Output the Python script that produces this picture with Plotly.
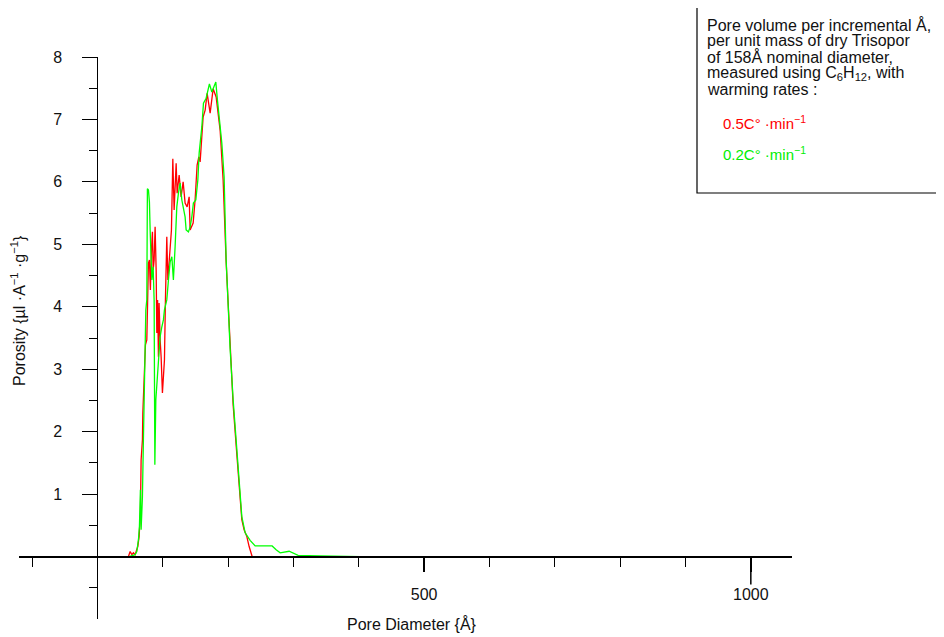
import plotly.graph_objects as go

# ---------------- data ----------------
red_name = "0.5C° ·min<sup>−1</sup>"
green_name = "0.2C° ·min<sup>−1</sup>"

red_x = [47.5, 50.1, 52.7, 55.1, 57.7, 61.8, 63.8, 65.8, 66.9, 68.9, 69.5, 70.4, 71.9, 73.5,
         75.6, 77.1, 78.1, 79.6, 81.1, 82.7, 84.2, 85.3, 86.8, 88.3, 89.9, 90.9, 92.1, 93.4,
         94.4, 96.0, 97.5, 99.5, 101.0, 102.6, 104.1, 106.2, 107.8, 109.8, 111.3, 113.3,
         115.4, 117.4, 120.5, 122.0, 125.1, 128.1, 131.2, 134.2, 137.3, 140.4, 141.9, 146.5,
         149.5, 152.6, 155.2, 157.2, 161.8, 164.9, 167.9, 172.5, 177.1, 181.7, 187.8, 192.4,
         197.0, 203.1, 207.7, 213.4, 216.9, 221.0, 224.5, 228.7, 232.2, 236.8, 300, 400,
         500, 600, 700, 800, 900, 1000, 1063]
red_y = [0.0, 0.08, 0.03, 0.06, 0.03, 0.16, 0.32, 0.70, 1.55, 1.87, 2.30, 2.62, 3.15, 3.39,
         3.47, 4.27, 4.70, 4.75, 4.27, 4.91, 5.20, 4.59, 4.75, 5.28, 4.59, 3.58, 4.11, 3.20,
         4.06, 3.47, 3.20, 2.62, 2.83, 3.15, 4.11, 5.12, 4.43, 4.75, 4.96, 5.23,
         6.37, 5.55, 6.30, 5.82, 6.11, 5.76, 6.00, 5.66, 5.60, 5.76, 5.23, 5.34,
         5.71, 6.27, 6.40, 6.32, 7.04, 7.15, 7.42, 7.10, 7.49, 7.36, 6.83, 6.03,
         4.72, 3.28, 2.43, 1.63, 1.10, 0.59, 0.43, 0.32, 0.16, 0.0, 0.0, 0.0,
         0.0, 0.0, 0.0, 0.0, 0.0, 0.0, 0.0]

green_x = [48.5, 57.7, 60.3, 62.8, 64.3, 65.8, 66.9, 68.9, 70.4, 71.9, 73.0, 74.1, 75.6, 76.5,
           78.1, 79.6, 80.7, 82.2, 83.3, 85.3, 86.8, 87.9, 88.3, 89.4, 91.8, 93.4, 96.0,
           98.6, 101.0, 102.6, 106.2, 108.7, 111.3, 113.9, 116.3, 118.9, 121.5, 124.0,
           126.6, 129.2, 131.6, 134.2, 135.8, 139.3, 141.9, 144.5, 146.9, 150.6, 153.7,
           155.7, 159.8, 162.3, 166.4, 171.4, 175.1, 181.2, 183.7, 186.7, 190.4, 193.9,
           197.0, 203.1, 207.7, 213.4, 216.9, 221.0, 226.1, 230.7, 233.7, 241.4, 267.4,
           273.5, 279.7, 293.4, 307.1, 340.9, 402, 500, 600, 700, 800, 900, 1000, 1063]
green_y = [0.0, 0.03, 0.08, 0.27, 0.48, 1.07, 0.43, 0.96, 1.87, 2.88, 3.58, 3.95, 4.11, 5.89,
           5.87, 5.68, 5.23, 4.91, 4.43, 4.64, 4.11, 1.47, 2.08, 2.51, 2.88, 3.20, 3.52,
           3.68, 3.79, 3.95, 4.11, 4.43, 4.72, 4.80, 4.43, 4.96, 5.60, 5.82,
           5.98, 5.71, 5.60, 5.44, 5.23, 5.20, 5.28, 5.44, 5.66, 5.71, 6.03,
           6.46, 6.88, 7.26, 7.34, 7.57, 7.44, 7.60, 7.31, 7.04, 6.62, 6.08,
           4.75, 3.33, 2.51, 1.71, 1.18, 0.64, 0.38, 0.30, 0.26, 0.17, 0.17,
           0.11, 0.06, 0.085, 0.02, 0.01, 0.0, 0.0, 0.0, 0.0, 0.0, 0.0, 0.0, 0.0]

x_major_ticks = [500, 1000]
x_major_labels = ["500", "1000"]
x_minor_ticks = [-100, 100, 200, 300, 400, 600, 700, 800, 900]
y_major_ticks = [1, 2, 3, 4, 5, 6, 7, 8]
y_major_labels = ["1", "2", "3", "4", "5", "6", "7", "8"]
y_minor_ticks = [-0.5, 0.5, 1.5, 2.5, 3.5, 4.5, 5.5, 6.5, 7.5]

legend_lines = [
    "Pore volume per incremental Å,",
    "per unit mass of dry Trisopor",
    "of 158Å nominal diameter,",
    "measured using C<sub>6</sub>H<sub>12</sub>, with",
    "warming rates :",
]

x_title = "Pore Diameter {Å}"
y_title = "Porosity {µl ·A<sup>−1</sup> ·g<sup>−1</sup>}"

# ---------------- layout geometry ----------------
OFF = 8  # page body margin
W, H = 944 - OFF, 637 - OFF
L, T = 19 - OFF, 57 - OFF
PW, PH = 773, 562
R, B = W - L - PW, H - T - PH
X_RANGE = [-120, 1063]
Y_RANGE = [-1, 8]
FONT = "Liberation Sans, Arial, sans-serif"
FS = 16


def pxx(px):
    return (px - OFF - L) / PW


def pyy(py):
    return 1 - (py - OFF - T) / PH


fig = go.Figure()
fig.add_trace(go.Scatter(x=red_x, y=red_y, mode="lines", name=red_name,
                         line=dict(color="#ff0000", width=1.3), showlegend=False))
fig.add_trace(go.Scatter(x=green_x, y=green_y, mode="lines", name=green_name,
                         line=dict(color="#00ff00", width=1.3), showlegend=False))

y_axis_pos = (0 - X_RANGE[0]) / (X_RANGE[1] - X_RANGE[0])
x_axis_pos = (0 - Y_RANGE[0]) / (Y_RANGE[1] - Y_RANGE[0])

fig.update_layout(
    width=W, height=H,
    margin=dict(l=L, r=R, t=T, b=B, pad=0),
    paper_bgcolor="white", plot_bgcolor="white",
    font=dict(family=FONT, size=FS, color="#111"),
    showlegend=False,
    xaxis=dict(
        range=X_RANGE, anchor="free", position=x_axis_pos,
        showgrid=False, zeroline=False,
        showline=True, linecolor="black", linewidth=2.2,
        tickmode="array", tickvals=x_major_ticks, ticktext=x_major_labels,
        ticks="outside", ticklen=14, tickwidth=1.5, tickcolor="black",
        ticklabelstandoff=9,
        minor=dict(tickmode="array", tickvals=x_minor_ticks, ticks="outside",
                   ticklen=9, tickwidth=1.3, tickcolor="black", showgrid=False),
        tickfont=dict(family=FONT, size=FS, color="#111"),
    ),
    yaxis=dict(
        range=Y_RANGE, anchor="free", position=y_axis_pos,
        showgrid=False, zeroline=False,
        showline=True, linecolor="black", linewidth=1.3,
        tickmode="array", tickvals=y_major_ticks, ticktext=y_major_labels,
        ticks="outside", ticklen=15, tickwidth=1.3, tickcolor="black",
        ticklabelstandoff=17,
        minor=dict(tickmode="array", tickvals=y_minor_ticks, ticks="outside",
                   ticklen=8, tickwidth=1.2, tickcolor="black", showgrid=False),
        tickfont=dict(family=FONT, size=FS, color="#111"),
    ),
)

# longer tick at 1000
fig.add_shape(type="line", xref="x", yref="y", x0=1000, x1=1000,
              ysizemode="pixel", yanchor=0, y0=0, y1=-28,
              line=dict(color="black", width=1.5))

# legend box (cut by the right edge)
fig.add_shape(type="rect", xref="paper", yref="paper",
              x0=pxx(697), x1=pxx(944 + 20), y0=pyy(193), y1=pyy(7),
              line=dict(color="black", width=1.2), fillcolor="rgba(0,0,0,0)", layer="above")

anns = []
centers = [24.5, 40.5, 57, 73.5, 89]
for txt, yc in zip(legend_lines, centers):
    anns.append(dict(text=txt, xref="paper", yref="paper", x=pxx(705), y=pyy(yc),
                     xanchor="left", yanchor="middle", showarrow=False,
                     font=dict(family=FONT, size=FS, color="#111")))
anns.append(dict(text=red_name, xref="paper", yref="paper", x=pxx(721), y=pyy(122),
                 xanchor="left", yanchor="middle", showarrow=False,
                 font=dict(family=FONT, size=FS - 1, color="#ff0000")))
anns.append(dict(text=green_name, xref="paper", yref="paper", x=pxx(721), y=pyy(154),
                 xanchor="left", yanchor="middle", showarrow=False,
                 font=dict(family=FONT, size=FS - 1, color="#00ee00")))
anns.append(dict(text=x_title, xref="paper", yref="paper", x=pxx(412), y=pyy(624),
                 xanchor="center", yanchor="middle", showarrow=False,
                 font=dict(family=FONT, size=FS, color="#111")))
anns.append(dict(text=y_title, xref="paper", yref="paper", x=pxx(18), y=pyy(311),
                 xanchor="center", yanchor="middle", showarrow=False, textangle=-90,
                 font=dict(family=FONT, size=FS, color="#111")))
fig.update_layout(annotations=anns)

fig.write_html("out.html")
